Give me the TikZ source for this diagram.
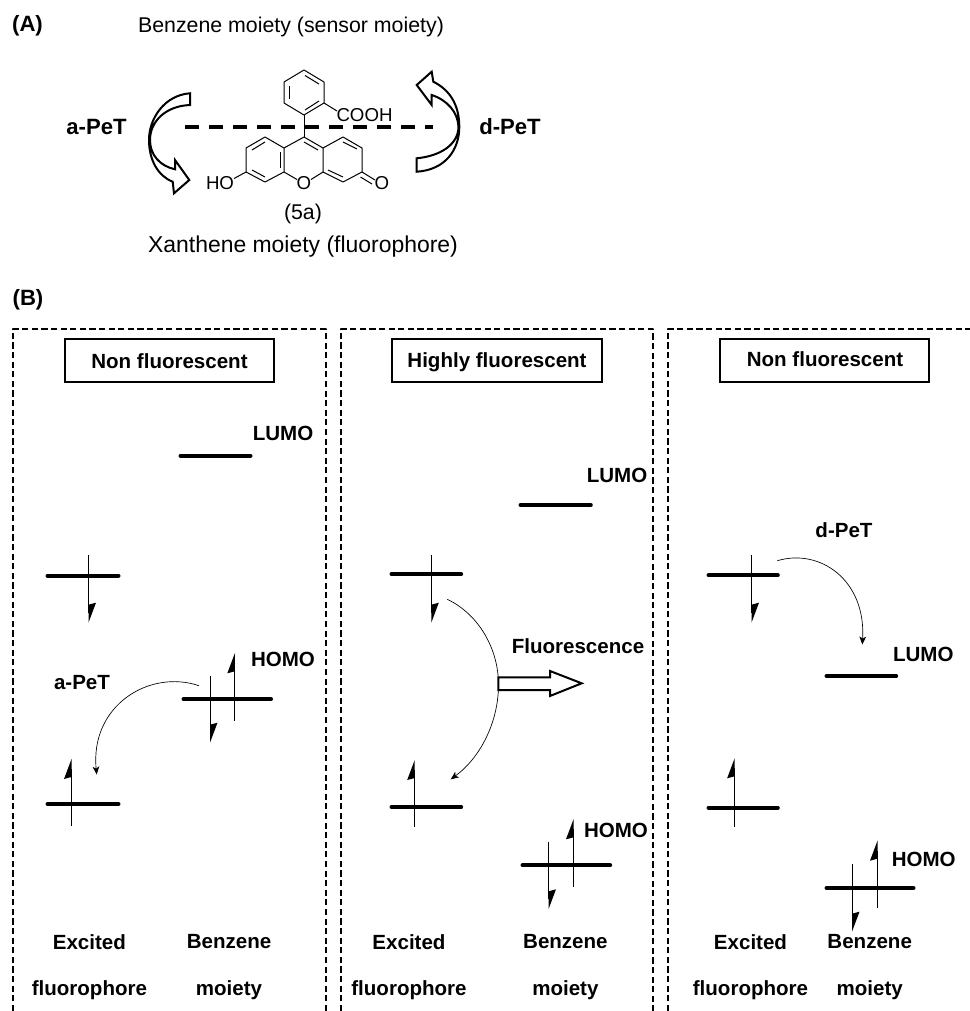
\documentclass[tikz,border=0pt]{standalone}
\usepackage{fontspec}
\setmainfont{Liberation Sans}
\usetikzlibrary{arrows.meta}
\tikzset{
  bond/.style={line width=0.75pt},
  atom/.style={inner sep=0pt,font=\fontsize{14}{14}\selectfont},
  plain/.style={inner sep=0pt,font=\fontsize{17.2}{18}\selectfont},
  lab/.style={inner sep=0pt,font=\fontsize{15.4}{16}\bfseries\selectfont},
  biglab/.style={inner sep=0pt,font=\fontsize{16.6}{18}\bfseries\selectfont},
  level/.style={line width=3pt,line cap=round},
  spin/.style={line width=0.6pt},
  panelbox/.style={line width=1.5pt,dash pattern=on 4.6pt off 2.6pt,line join=round},
  titlebox/.style={draw,line width=1.5pt,fill=white},
  hollow/.style={draw,fill=white,line width=1.5pt,line join=miter},
  pet/.style={line width=0.5pt,-{Stealth[length=6pt,width=5pt,inset=1.6pt]}}
}
\newcommand{\spinup}[3]{% x, bottom y, tip y
  \draw[spin] (#1,#2) -- (#1,#3+10);
  \fill (#1,#3) -- (#1-7.5,#3+20) -- (#1,#3+18) -- cycle;}
\newcommand{\spindown}[3]{% x, top y, tip y
  \draw[spin] (#1,#2) -- (#1,#3-10);
  \fill (#1,#3) -- (#1+7.5,#3-20) -- (#1,#3-18) -- cycle;}
\begin{document}
\begin{tikzpicture}[x=0.75pt,y=-0.75pt]
\useasboundingbox (0,0) rectangle (970,1011);
% ---- (A) ----
\node[biglab] (labA) at (27.5,26) {(A)};
\node[inner sep=0pt,font=\fontsize{16}{18}\selectfont] (sensor) at (291,26.5) {Benzene moiety (sensor moiety)};
\node[biglab] (apet) at (96.5,127) {a-PeT};
\node[biglab] (dpet) at (510,127) {d-PeT};
\node[plain] (xanth) at (303,247) {Xanthene moiety (fluorophore)};
\node[inner sep=0pt,font=\fontsize{16}{18}\selectfont] (fivea) at (303,214) {(5a)};
% molecule atoms
\coordinate (b1) at (304,70); \coordinate (b2) at (324,82); \coordinate (b3) at (324,103);
\coordinate (b4) at (304,115); \coordinate (b5) at (284,103); \coordinate (b6) at (284,82);
\coordinate (c9) at (304,137); \coordinate (r1) at (323,148); \coordinate (r2) at (323,172);
\coordinate (l1) at (284,148); \coordinate (l2) at (284,172);
\coordinate (l3) at (265,137); \coordinate (l4) at (246,148); \coordinate (l5) at (246,172); \coordinate (l6) at (265,182);
\coordinate (r3) at (343,137); \coordinate (r4) at (362,148); \coordinate (r5) at (362,172); \coordinate (r6) at (343,182);
\node[atom] (cooh) at (364.5,115.5) {COOH};
\node[atom] (ho) at (220,183) {HO};
\node[atom] (oxy) at (304,183.5) {O};
\node[atom] (keto) at (382,183.5) {O};
\draw[bond,line join=round] (b1)--(b2)--(b3)--(b4)--(b5)--(b6)--cycle;
\draw[bond] (b3)--(337,111);
\draw[bond] (b4)--(c9);
\draw[bond] (c9)--(r1)--(r2);
\draw[bond] (c9)--(l1)--(l2);
\draw[bond,line join=round] (l1)--(l3)--(l4)--(l5)--(l6)--(l2);
\draw[bond,line join=round] (r1)--(r3)--(r4)--(r5)--(r6)--(r2);
\draw[bond] (l2)--(297,179.5);
\draw[bond] (r2)--(311,179.5);
\draw[bond] (l5)--(234,178.5);
\draw[bond] (r5)--(375,180);
\draw[bond] (360.5,177)--(372,184);
% inner double bonds
\draw[bond] (289,86)--(289,99);
\draw[bond] (305,75.5)--(319,84);
\draw[bond] (305,110)--(319,101);
\draw[bond] (252,150)--(265,142);
\draw[bond] (252,170)--(265,177);
\draw[bond] (280,152)--(280,168);
\draw[bond] (304,142)--(318,150);
\draw[bond] (343,142)--(357,149);
\draw[bond] (328,170)--(343,177);
% dashed axis
\coordinate (dashL) at (185,127); \coordinate (dashR) at (433,127);
\draw[line width=3.3pt,dash pattern=on 10.5pt off 7.5pt] (dashL)--(dashR);
% curved hollow arrows
\path[hollow] (190,93.3) .. controls (165,95) and (149,118) .. (149,140)
  .. controls (149,160) and (158,176) .. (172.7,181.7) -- (174,193.3) -- (189.3,180) -- (175,160) -- (175,169.3)
  .. controls (160,166) and (150,155) .. (150,140) .. controls (150,122) and (165,106) .. (190,105) -- cycle;
\path[hollow] (416.7,171.7) .. controls (445,170) and (459.3,150) .. (459.3,127)
  .. controls (459.3,105) and (450,90) .. (433.3,81.7) -- (431.7,71.7) -- (416.7,85) -- (431.7,105) -- (431.7,95)
  .. controls (447,100) and (458,112) .. (458.5,127) .. controls (458,145) and (440,156) .. (416.7,158.3) -- cycle;
% ---- (B) ----
\node[biglab] (labB) at (28,300) {(B)};
\draw[panelbox] (13,1011) -- (13,329) -- (325.5,329) -- (325.5,1011);
\draw[panelbox] (341,1011) -- (341,329) -- (653,329) -- (653,1011);
\draw[panelbox] (668,1011) -- (668,329) -- (970,329);
\draw[titlebox] (64.5,339) rectangle (274,381.5);
\draw[titlebox] (392,339) rectangle (602,382);
\draw[titlebox] (720,339) rectangle (929,382);
\node[lab] (t1) at (169.5,361) {Non fluorescent};
\node[lab] (t2) at (497,362.5) {Highly fluorescent};
\node[lab] (t3) at (825,359) {Non fluorescent};
% panel 1
\draw[level] (180.5,455.7)--(250.5,455.7);
\node[lab] (lumo1) at (283,433) {LUMO};
\draw[level] (47.5,575.7)--(118.5,575.7);
\spindown{88.5}{555}{622.7}
\draw[level] (47.5,804)--(118.5,804);
\spinup{71.5}{825.7}{759}
\draw[level] (183.5,699.3)--(271,699.3);
\spindown{210}{675.7}{742.7}
\spinup{234.8}{720.7}{653.3}
\node[lab] (homo1) at (283,659.3) {HOMO};
\node[lab] (ap1) at (82,683) {a-PeT};
\coordinate (c1a) at (199,685.7); \coordinate (c1b) at (96.7,774.5);
\draw[pet] (c1a) .. controls (150,669) and (90,705) .. (c1b);
\node[lab] (e1) at (89.4,941.7) {Excited};
\node[lab] (f1) at (89.4,990) {fluorophore};
\node[lab] (bz1) at (229,941.7) {Benzene};
\node[lab] (m1) at (229,990) {moiety};
% panel 2
\draw[level] (520.5,505)--(590.8,505);
\node[lab] (lumo2) at (617,475.7) {LUMO};
\draw[level] (391.5,574.3)--(461.2,574.3);
\spindown{431.3}{555}{622.7}
\draw[level] (391.5,807)--(461.2,807);
\spinup{414.7}{826.7}{760}
\draw[level] (522.5,865.3)--(610.2,865.3);
\spindown{548.5}{841.7}{909.3}
\spinup{573.5}{886.7}{819.3}
\node[lab] (homo2) at (616,830.7) {HOMO};
\coordinate (c2a) at (447.3,599.3); \coordinate (c2b) at (450.7,779.3);
\draw[pet] (c2a) .. controls (480,615) and (498,650) .. (498.5,683) .. controls (499,722) and (480,758) .. (c2b);
\path[hollow] (498.3,677.3) -- (550,677.3) -- (550,671) -- (581.7,683.3) -- (550,696) -- (550,690) -- (498.3,690) -- cycle;
\node[lab] (fl) at (578,646) {Fluorescence};
\node[lab] (e2) at (409,941.7) {Excited};
\node[lab] (f2) at (409,990) {fluorophore};
\node[lab] (bz2) at (565.4,941.7) {Benzene};
\node[lab] (m2) at (565.4,990) {moiety};
% panel 3
\node[lab] (dp3) at (844,530) {d-PeT};
\draw[level] (708.5,575.3)--(777.8,575.3);
\spindown{751.5}{555}{622.7}
\draw[level] (708.5,807.7)--(777.8,807.7);
\spinup{734.6}{826.7}{758.3}
\draw[level] (826.5,676)--(896.2,676);
\node[lab] (lumo3) at (923.3,654.3) {LUMO};
\draw[level] (826.5,888)--(913.5,888);
\spindown{852}{864}{931.7}
\spinup{877.5}{908.3}{840.7}
\node[lab] (homo3) at (923.7,859.3) {HOMO};
\coordinate (c3a) at (777.3,560.7); \coordinate (c3b) at (862.3,644.5);
\draw[pet] (c3a) .. controls (820,548) and (866,580) .. (c3b);
\node[lab] (e3) at (750.5,941.7) {Excited};
\node[lab] (f3) at (750.5,990) {fluorophore};
\node[lab] (bz3) at (869.7,941.7) {Benzene};
\node[lab] (m3) at (869.7,990) {moiety};
\end{tikzpicture}
\end{document}
